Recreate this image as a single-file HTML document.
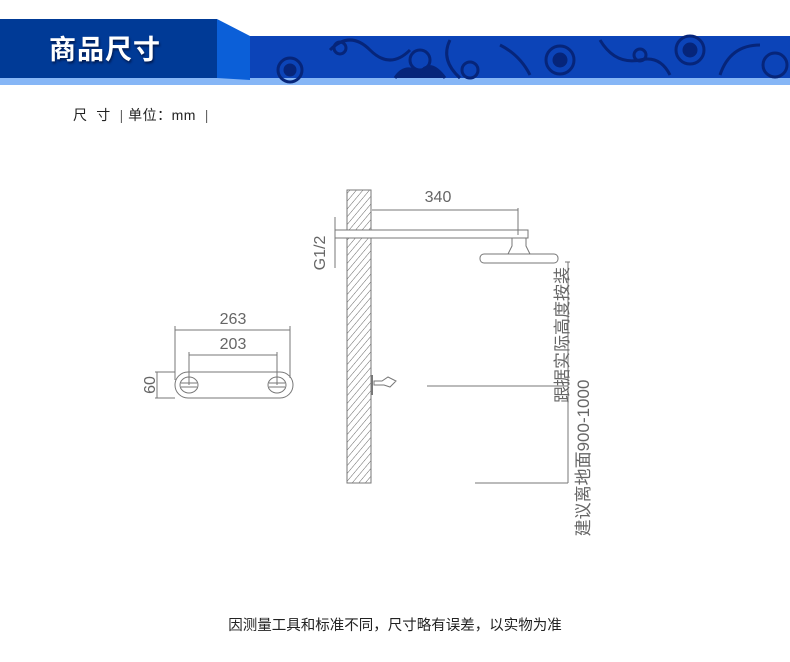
<!DOCTYPE html>
<html><head><meta charset="utf-8"><style>
body{margin:0;width:790px;height:662px;background:#fff;position:relative;overflow:hidden;font-family:"Liberation Sans","Noto Sans CJK SC",sans-serif}
.a{position:absolute}
</style></head><body>
<div class="a" style="left:0;top:19px;width:217px;height:59px;background:#003a96"></div>
<div class="a" style="left:0;top:78px;width:790px;height:7px;background:#86b6f6"></div>
<svg class="a" style="left:0;top:0" width="790" height="90">
<polygon points="217,19 250,36 250,80 217,78" fill="#0b5fd8"/>
<rect x="250" y="36" width="540" height="42" fill="#0c44b8"/>
<g fill="none" stroke="#06257a" stroke-width="3">
<circle cx="290" cy="70" r="12"/><circle cx="290" cy="70" r="5" fill="#06257a"/>
<path d="M330 50 q20 -20 40 0 q20 20 40 0"/><circle cx="340" cy="48" r="6"/>
<circle cx="420" cy="60" r="10"/><path d="M450 40 q-10 20 10 38"/>
<circle cx="470" cy="70" r="8"/><path d="M500 45 q20 10 30 30"/>
<circle cx="560" cy="60" r="14"/><circle cx="560" cy="60" r="6" fill="#06257a"/>
<path d="M600 40 q15 25 40 20 q20 -5 30 15"/><circle cx="640" cy="55" r="6"/>
<circle cx="690" cy="50" r="14"/><circle cx="690" cy="50" r="6" fill="#06257a"/>
<path d="M720 75 q10 -30 40 -30"/><circle cx="775" cy="65" r="12"/>
<path d="M395 78 q10 -15 25 -5 q10 -15 25 5" fill="#06257a"/>
</g>
</svg>
<div class="a" style="left:49px;top:28px;color:#fff;font-size:27px;font-weight:bold;letter-spacing:1px;text-shadow:1px 2px 2px #001a50">商品尺寸</div>
<div class="a" style="left:73px;top:105px;font-size:14px;color:#222;white-space:pre;letter-spacing:0.5px">尺  寸  <span style="color:#666">|</span> 单位：mm  <span style="color:#666">|</span></div>
<svg class="a" style="left:0;top:0" width="790" height="662" font-family="Liberation Sans, Noto Sans CJK SC, sans-serif">
<defs><pattern id="h" width="5" height="5" patternUnits="userSpaceOnUse" patternTransform="rotate(40)"><line x1="0" y1="0" x2="0" y2="5" stroke="#666" stroke-width="1"/></pattern></defs>
<g stroke="#777" fill="none" stroke-width="1">
<rect x="175" y="372" width="118" height="26" rx="13"/>
<line x1="175" y1="330" x2="290" y2="330"/><line x1="175" y1="326" x2="175" y2="380"/><line x1="290" y1="326" x2="290" y2="378"/>
<line x1="189" y1="355" x2="277" y2="355"/><line x1="189" y1="352" x2="189" y2="385"/><line x1="277" y1="352" x2="277" y2="385"/>
<line x1="155" y1="372" x2="175" y2="372"/><line x1="155" y1="398" x2="175" y2="398"/><line x1="157" y1="372" x2="157" y2="398"/>
<ellipse cx="189" cy="385" rx="9" ry="8"/><ellipse cx="277" cy="385" rx="9" ry="8"/>
<path d="M181 383 h16 M181 387 h16 M269 383 h16 M269 387 h16"/>
<rect x="347" y="190" width="24" height="293" fill="url(#h)" stroke="#777"/>
<rect x="335" y="230" width="193" height="8" fill="#fff"/>
<line x1="372" y1="210" x2="518" y2="210"/><line x1="518" y1="208" x2="518" y2="235"/>
<line x1="335" y1="217" x2="335" y2="268"/>
<path d="M512 238 h14 v8 l4 8 h-22 l4 -8z"/>
<rect x="480" y="254" width="78" height="9" rx="4"/>
<line x1="568" y1="262" x2="568" y2="483"/><line x1="565" y1="262" x2="570" y2="262"/>
<line x1="372" y1="375" x2="372" y2="395" stroke-width="2"/>
<path d="M374 381 h8 l6 -4 l8 4 l-6 6 l-6 -2 h-10z"/>
<line x1="427" y1="386" x2="568" y2="386"/>
<line x1="475" y1="483" x2="568" y2="483"/>
</g>
<g fill="#666" font-size="16">
<text x="233" y="324" text-anchor="middle">263</text>
<text x="233" y="349" text-anchor="middle">203</text>
<text x="150" y="385" text-anchor="middle" transform="rotate(-90 150 385)" dy="5">60</text>
<text x="438" y="202" text-anchor="middle">340</text>
<text x="320" y="253" text-anchor="middle" transform="rotate(-90 320 253)" dy="5">G1/2</text>
<text x="562" y="335" text-anchor="middle" transform="rotate(-90 562 335)" dy="6" font-size="17">跟据实际高度按装</text>
<text x="583" y="458" text-anchor="middle" transform="rotate(-90 583 458)" dy="6" font-size="17">建议离地面900-1000</text>
</g>
<text x="395" y="630" text-anchor="middle" font-size="14.5" fill="#222">因测量工具和标准不同，尺寸略有误差，以实物为准</text>
</svg>
</body></html>
